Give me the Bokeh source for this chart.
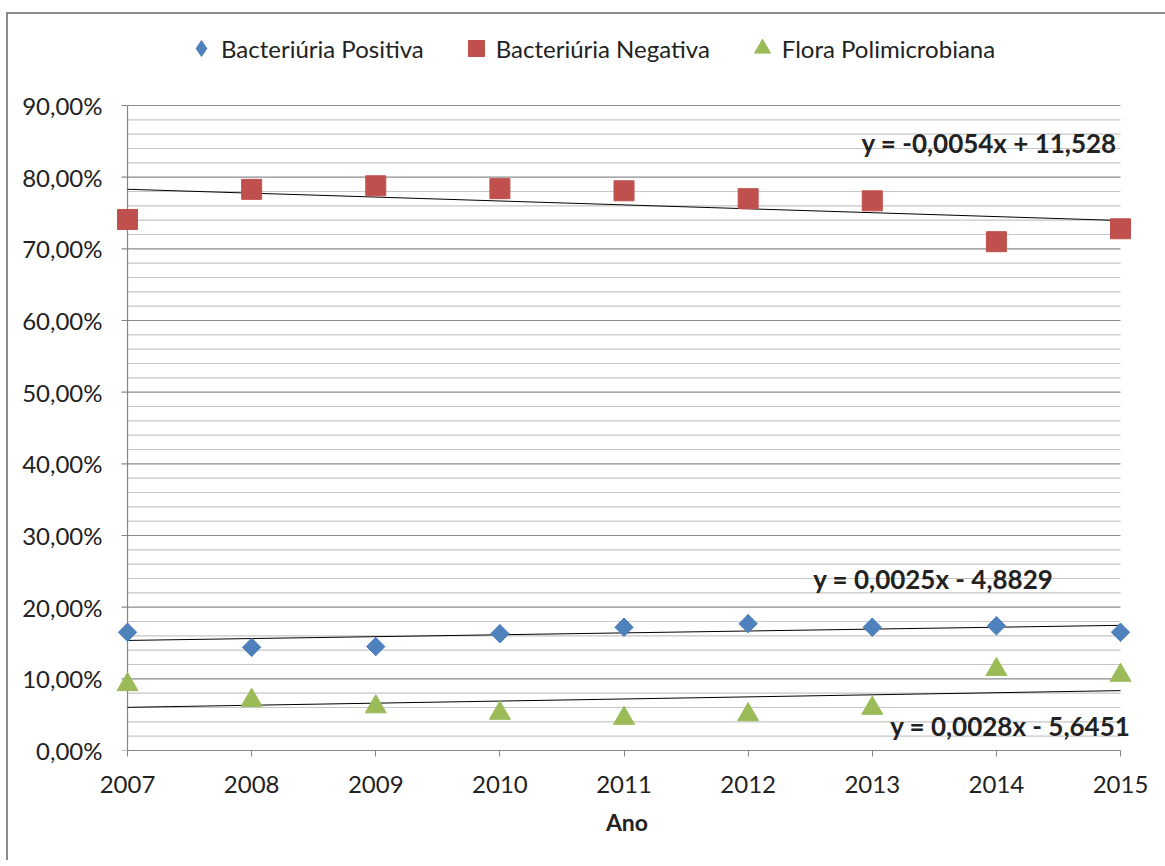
import numpy as np
from bokeh.plotting import figure
from bokeh.models import Legend, LegendItem, Label, FixedTicker
from bokeh.embed import file_html
from bokeh.resources import INLINE

# Percentage of each urine-culture outcome per year
anos = [2007, 2008, 2009, 2010, 2011, 2012, 2013, 2014, 2015]
bact_positiva = [16.5, 14.4, 14.5, 16.3, 17.2, 17.7, 17.2, 17.4, 16.5]
bact_negativa = [74.1, 78.3, 78.8, 78.4, 78.1, 77.0, 76.7, 71.0, 72.8]
flora_polimicrobiana = [9.2, 7.0, 6.1, 5.2, 4.5, 5.0, 5.9, 11.3, 10.5]

serie_nomes = ["Bacteriúria Positiva", "Bacteriúria Negativa", "Flora Polimicrobiana"]
eq_textos = ["y = 0,0025x - 4,8829", "y = -0,0054x + 11,528", "y = 0,0028x - 5,6451"]

y_ticks = [0, 10, 20, 30, 40, 50, 60, 70, 80, 90]
y_tick_labels = ["0,00%", "10,00%", "20,00%", "30,00%", "40,00%",
                 "50,00%", "60,00%", "70,00%", "80,00%", "90,00%"]
y_minor = [v for v in range(0, 90, 2) if v % 10 != 0]

FONT = "Lato"
TXT = "#222222"
AXIS = "#868686"
AZUL, VERMELHO, VERDE = "#4F81BD", "#C0504D", "#9BBB59"

PX_PER_YEAR = 124.125
x0, x1 = anos[0], anos[-1]
p = figure(frame_width=1027, frame_height=736,
           x_range=(2006.887, 2015.161), y_range=(0, 102.70),
           output_backend="svg", toolbar_location=None,
           min_border_left=105, min_border_right=25,
           min_border_top=0, min_border_bottom=110)
p.margin = (12, 0, 0, 6)
p.styles = {"border-left": "2px solid #8c8c8c", "border-top": "2px solid #8c8c8c"}
p.outline_line_color = None
p.background_fill_color = "white"
p.border_fill_color = "white"
p.grid.visible = False

# horizontal grid, limited to the year span
p.segment(x0=[x0] * len(y_minor), x1=[x1] * len(y_minor), y0=y_minor, y1=y_minor,
          line_color="#c6c6c6", line_width=1.2)
p.segment(x0=[x0] * len(y_ticks), x1=[x1] * len(y_ticks), y0=y_ticks, y1=y_ticks,
          line_color="#8c8c8c", line_width=1.2)

# value axis line and its outward ticks, sitting on the first year
tick_len = 6 / PX_PER_YEAR
p.segment(x0=[x0], x1=[x0], y0=[y_ticks[0]], y1=[y_ticks[-1]],
          line_color=AXIS, line_width=1.2)
p.segment(x0=[x0 - tick_len] * len(y_ticks), x1=[x0] * len(y_ticks),
          y0=y_ticks, y1=y_ticks, line_color=AXIS, line_width=1.2)

# axes
p.xaxis.ticker = FixedTicker(ticks=anos)
p.xaxis.bounds = (x0, x1)
p.xaxis.axis_line_color = AXIS
p.xaxis.axis_line_width = 1.2
p.xaxis.major_tick_line_color = AXIS
p.xaxis.major_tick_out = 6
p.xaxis.major_tick_in = 0
p.xaxis.major_label_standoff = 19

p.yaxis.ticker = FixedTicker(ticks=y_ticks)
p.yaxis.major_label_overrides = {t: l for t, l in zip(y_ticks, y_tick_labels)}
p.yaxis.axis_line_color = None
p.yaxis.major_tick_line_color = None
p.yaxis.major_tick_out = 0
p.yaxis.major_tick_in = 0
p.yaxis.major_label_standoff = 11

for ax in (p.xaxis[0], p.yaxis[0]):
    ax.minor_tick_line_color = None
    ax.major_label_text_font = FONT
    ax.major_label_text_font_size = "24px"
    ax.major_label_text_color = TXT

p.xaxis.axis_label = "Ano"
p.xaxis.axis_label_text_font = FONT
p.xaxis.axis_label_text_font_style = "bold"
p.xaxis.axis_label_text_font_size = "23px"
p.xaxis.axis_label_text_color = TXT
p.xaxis.axis_label_standoff = 12

# linear trend lines
series = [bact_positiva, bact_negativa, flora_polimicrobiana]
x_arr = np.array(anos, dtype=float)
for vals in series:
    m, b = np.polyfit(x_arr, np.array(vals), 1)
    p.line([x0, x1], [m * x0 + b, m * x1 + b], line_color="black", line_width=1)

# a narrow diamond (used by the legend) under a square turned 45 degrees
r_pos = p.scatter(anos, bact_positiva, marker="diamond", size=18,
                  fill_color=AZUL, line_color=AZUL)
p.scatter(anos, bact_positiva, marker="square", angle=np.pi / 4, size=13,
          fill_color=AZUL, line_color=AZUL)
r_neg = p.scatter(anos, bact_negativa, marker="square", size=20,
                  fill_color=VERMELHO, line_color=VERMELHO)
r_flo = p.scatter(anos, flora_polimicrobiana, marker="triangle", size=21,
                  fill_color=VERDE, line_color=VERDE)

# trend equations
eq_pos = [(2014.46, 24.0), (2014.97, 84.8), (2015.08, 3.35)]
for (x, y), txt in zip(eq_pos, eq_textos):
    p.add_layout(Label(x=x, y=y, text=txt, text_align="right", text_baseline="middle",
                       text_font=FONT, text_font_style="bold",
                       text_font_size="26px", text_color=TXT))

legend = Legend(items=[LegendItem(label=n, renderers=[r])
                       for n, r in zip(serie_nomes, [r_pos, r_neg, r_flo])],
                orientation="horizontal", location=(68, 680),
                label_text_font=FONT, label_text_font_size="24px",
                label_text_color=TXT, glyph_width=40, glyph_height=44,
                spacing=32, label_standoff=-7, padding=0, margin=0,
                border_line_color=None, background_fill_alpha=0)
p.add_layout(legend, "center")

open("out.html", "w").write(file_html(p, INLINE))
